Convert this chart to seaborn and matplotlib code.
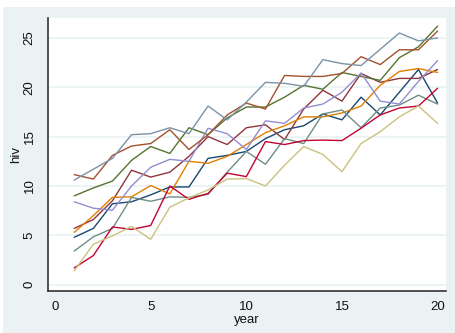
import numpy as np
import pandas as pd
import matplotlib
matplotlib.use("Agg")
import matplotlib.pyplot as plt
import seaborn as sns

years = list(range(1, 21))
navy = [4.8, 5.7, 8.2, 8.4, 9.1, 9.9, 9.9, 12.8, 13.1, 13.5, 14.8, 15.7, 16.1, 17.3, 16.7, 19.0, 17.2, 19.5, 21.8, 18.4]
maroon = [5.7, 6.6, 8.5, 11.6, 10.9, 11.4, 13.0, 15.0, 14.2, 15.9, 16.2, 14.7, 17.8, 19.7, 18.6, 21.4, 20.5, 20.9, 20.9, 21.8]
green = [9.0, 9.8, 10.5, 12.6, 14.0, 13.3, 15.9, 15.2, 16.9, 18.0, 18.0, 19.0, 20.2, 19.8, 21.5, 21.1, 20.7, 23.0, 24.1, 26.2]
orange = [5.3, 7.0, 8.85, 8.9, 10.05, 9.2, 12.5, 12.3, 13.0, 14.2, 15.4, 16.1, 17.0, 17.0, 17.4, 18.1, 20.2, 21.6, 21.9, 21.5]
teal = [3.4, 4.85, 5.7, 8.85, 8.45, 8.9, 8.85, 9.15, 11.4, 13.5, 12.2, 14.8, 14.3, 17.3, 17.7, 15.9, 17.9, 18.2, 19.2, 18.3]
cranberry = [1.7, 2.95, 5.85, 5.6, 6.0, 10.0, 8.65, 9.25, 11.3, 10.95, 14.5, 14.2, 14.6, 14.65, 14.6, 15.85, 17.2, 17.9, 18.1, 19.9]
lavender = [8.4, 7.75, 7.55, 10.0, 11.9, 12.7, 12.5, 15.85, 15.3, 13.7, 16.6, 16.35, 17.9, 18.3, 19.5, 21.45, 18.6, 18.3, 20.6, 22.7]
khaki = [1.4, 4.1, 4.95, 5.9, 4.6, 7.85, 8.8, 9.6, 10.7, 10.75, 10.0, 12.1, 14.0, 13.2, 11.45, 14.3, 15.5, 17.0, 18.1, 16.35]
sienna = [11.15, 10.7, 13.1, 14.05, 14.3, 15.7, 13.7, 15.2, 17.2, 18.4, 17.8, 21.2, 21.1, 21.1, 21.4, 23.1, 22.3, 23.8, 23.8, 25.7]
emidblue = [10.6, 11.7, 12.8, 15.2, 15.3, 15.9, 15.3, 18.1, 16.7, 18.5, 20.5, 20.4, 20.1, 22.8, 22.4, 22.2, 23.85, 25.5, 24.7, 25.0]

series = [navy, maroon, green, orange, teal, cranberry, lavender, khaki, sienna, emidblue]
ids = list(range(1, 11))
colors = ["#1a476f", "#90353b", "#55752f", "#e37e00", "#6e8e84",
          "#c10534", "#938dd2", "#cac27e", "#a0522d", "#7b92a8"]
xticks = [0, 5, 10, 15, 20]
yticks = [0, 5, 10, 15, 20, 25]

df = pd.DataFrame({
    "year": years * len(series),
    "hiv": sum(series, []),
    "id": np.repeat(ids, len(years)),
})

sns.set_theme(style="white")
plt.rcParams["font.family"] = ["Liberation Sans", "DejaVu Sans"]

W, H = 456, 333
fig = plt.figure(figsize=(W / 100, H / 100), dpi=100, facecolor="white")
bgax = fig.add_axes([3 / W, 0, 1 - 3 / W, (H - 7) / H], zorder=-5)
bgax.set_facecolor("#eaf2f3")
bgax.set_xticks([])
bgax.set_yticks([])
for s in bgax.spines.values():
    s.set_visible(False)

ax = fig.add_axes([48 / W, (H - 291) / H, (446 - 48) / W, (291 - 18) / H], zorder=1)
ax.set_facecolor("white")

sns.lineplot(data=df, x="year", y="hiv", hue="id", palette=colors,
             linewidth=1.0, legend=False, ax=ax, estimator=None)

ax.set_xlim(-0.37, 20.44)
ax.set_ylim(-0.64, 27.02)
ax.set_xticks(xticks)
ax.set_yticks(yticks)
ax.grid(axis="y", color="#eaf2f3", linewidth=1.2)
ax.grid(axis="x", visible=False)
for s in ["top", "right"]:
    ax.spines[s].set_visible(False)
for s in ["left", "bottom"]:
    ax.spines[s].set_color("#333333")
    ax.spines[s].set_linewidth(1.2)

ax.tick_params(axis="both", direction="out", length=5, width=1, color="#333333",
               labelsize=9.5, labelcolor="#111111")
ax.tick_params(axis="x", pad=2)
ax.tick_params(axis="y", pad=4)
for lab in ax.get_yticklabels():
    lab.set_rotation(90)
    lab.set_va("center")
    lab.set_ha("right")

ax.set_xlabel("year", fontsize=9.5, color="#111111", labelpad=1)
ax.set_ylabel("hiv", fontsize=9.5, color="#111111", labelpad=1)

fig.savefig("out.png", dpi=100, facecolor="white")
